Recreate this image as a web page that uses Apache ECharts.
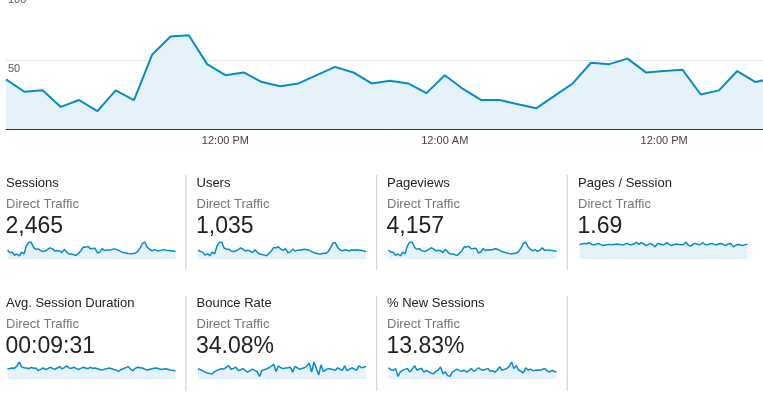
<!DOCTYPE html>
<html>
<head>
<meta charset="utf-8">
<script src="https://cdn.jsdelivr.net/npm/echarts@6/dist/echarts.min.js"></script>
<style>
  html, body { margin: 0; padding: 0; background: #fff; }
  #chart { width: 763px; height: 398px; }
</style>
</head>
<body>
<div id="chart"></div>
<script>
const FONT = '"Liberation Sans", Arial, sans-serif'

const hourNames = ['12:00 AM', '1:00 AM', '2:00 AM', '3:00 AM', '4:00 AM', '5:00 AM',
  '6:00 AM', '7:00 AM', '8:00 AM', '9:00 AM', '10:00 AM', '11:00 AM',
  '12:00 PM', '1:00 PM', '2:00 PM', '3:00 PM', '4:00 PM', '5:00 PM',
  '6:00 PM', '7:00 PM', '8:00 PM', '9:00 PM', '10:00 PM', '11:00 PM']
const hours = [...hourNames, ...hourNames, ...hourNames]

const yTicks = [0, 50, 100]

// hourly sessions, Direct Traffic (also drives the big chart)
const sessions = [36, 27, 28, 16, 21, 13, 28, 21, 54, 67, 68, 47, 39, 41, 34, 31, 33, 39, 45, 41,
  33, 35, 33, 26, 39, 29, 21, 21, 18, 15, 24, 33, 48, 47, 51, 41, 42, 43, 25, 28,
  42, 34, 37, 36, 38, 41, 39, 35, 30, 27, 25, 23, 22, 23, 24, 30, 44, 62, 68, 48,
  40, 33, 38, 35, 33, 36, 38, 36, 35, 34, 33, 31]
const users = [16, 13, 12, 7, 9, 6, 12, 9, 22, 28, 29, 19, 17, 17, 14, 13, 14, 16, 19, 17,
  14, 15, 14, 11, 16, 12, 9, 8, 7, 6, 10, 14, 20, 19, 21, 17, 15, 18, 11, 12,
  17, 14, 15, 15, 16, 17, 16, 15, 13, 11, 10, 9, 9, 10, 10, 13, 19, 27, 28, 20,
  16, 14, 16, 15, 14, 16, 15, 16, 15, 15, 14, 13]
const pageviews = [61, 46, 47, 27, 35, 22, 48, 36, 90, 112, 114, 79, 66, 70, 57, 52, 56, 66, 76, 69,
  56, 60, 56, 44, 66, 49, 36, 35, 31, 25, 41, 56, 82, 80, 86, 70, 71, 73, 42, 48,
  71, 58, 63, 61, 65, 70, 66, 59, 51, 46, 42, 39, 37, 39, 41, 51, 75, 105, 114, 81,
  66, 56, 64, 52, 60, 76, 58, 62, 60, 58, 56, 53]
const pagesPerSession = [1.72, 1.78, 1.84, 1.80, 1.92, 1.75, 1.68, 1.74, 1.84, 1.70,
  1.60, 1.66, 1.72, 1.70, 1.68, 1.74, 1.76, 1.70, 1.68, 1.72,
  1.84, 1.70, 1.68, 1.76, 2.00, 1.72, 1.92, 1.80, 1.60, 1.70,
  1.84, 1.66, 1.44, 1.84, 1.76, 1.68, 1.72, 1.92, 1.70, 1.60,
  1.72, 1.76, 1.70, 1.68, 1.72, 2.00, 1.62, 1.52, 1.74, 1.84,
  1.70, 1.68, 1.92, 1.72, 1.68, 1.76, 1.84, 1.72, 1.68, 1.80,
  1.84, 1.66, 1.60, 1.80, 1.84, 1.44, 1.62, 1.72, 1.66, 1.60, 1.70, 1.72]
// seconds
const avgDuration = [600, 610, 640, 620, 760, 980, 690, 660, 640, 600, 680, 620, 640, 500, 560, 640, 560, 600, 680, 620,
  560, 640, 720, 600, 660, 760, 640, 620, 680, 620, 560, 620, 680, 640, 600, 680, 620, 640, 600, 560,
  520, 580, 600, 640, 600, 560, 520, 440, 560, 600, 660, 720, 580, 480, 620, 680, 660, 640, 580, 520,
  560, 600, 620, 640, 600, 560, 580, 600, 560, 520, 500, 480]
const bounceRate = [37, 33, 29, 25, 22, 20, 19, 26, 31, 34, 37, 36, 42, 47, 35, 38, 42, 30, 33, 37,
  30, 25, 30, 35, 30, 27, 10, 31, 33, 36, 40, 46, 52, 27, 47, 40, 37, 39, 40, 42,
  25, 45, 40, 35, 38, 40, 46, 56, 25, 60, 38, 15, 50, 27, 33, 37, 36, 34, 31, 40,
  35, 31, 47, 30, 35, 40, 36, 31, 47, 40, 42, 45]
const newSessions = [18.7, 15, 14.6, 17.5, 4.7, 12, 14.6, 16, 17.5, 11.7, 16, 22.2, 14.6, 17, 17.5, 11.7, 14.6, 12, 10, 8.8,
  12.8, 15, 19.8, 8.8, 12, 6, 4.7, 11.7, 14, 16.3, 14, 12.8, 15, 11.7, 14, 17.5, 12.8, 15, 18.7, 16,
  14.6, 16, 17.5, 13, 14, 11.7, 15, 20.4, 14.6, 16, 17.5, 21, 28, 17.5, 22.2, 15, 13, 10.5, 18.7, 15,
  16.3, 14, 14.6, 15, 14.6, 16, 17.5, 14, 11.7, 14.6, 13, 11.7]

const metricNames = ['Sessions', 'Users', 'Pageviews', 'Pages / Session',
  'Avg. Session Duration', 'Bounce Rate', '% New Sessions']
const metricTotals = ['2,465', '1,035', '4,157', '1.69', '00:09:31', '34.08%', '13.83%']
const metricSeries = [sessions, users, pageviews, pagesPerSession, avgDuration, bounceRate, newSessions]
const segmentName = 'Direct Traffic'

const LINE = '#058dc7'
const AREA = '#e6f2f9'

const colX = [6, 196.5, 387, 578]
const rowY = [0, 120]

// big chart is wider than the window, only the first ~42 hours show
const grids = [{ left: 6, top: -9, width: 1298, height: 138, outerBoundsMode: 'none' }]
const xAxes = [{
  type: 'category', gridIndex: 0, data: hours, boundaryGap: false,
  axisLine: { lineStyle: { color: '#333', width: 1 } },
  axisTick: { show: false },
  axisLabel: {
    interval: (i) => i > 0 && i % 12 === 0,
    color: '#444', fontSize: 11, fontFamily: FONT, margin: 6
  },
  splitLine: { show: false }
}]
const yAxes = [{
  type: 'value', gridIndex: 0, min: yTicks[0], max: yTicks[2], interval: yTicks[1] - yTicks[0],
  axisLine: { show: false }, axisTick: { show: false },
  axisLabel: {
    inside: true, showMinLabel: false, margin: 2, verticalAlign: 'top',
    padding: [3, 0, 0, 0], color: '#555', fontSize: 11, fontFamily: FONT
  },
  splitLine: { lineStyle: { color: '#e6e6e6' } }
}]
const series = [{
  type: 'line', xAxisIndex: 0, yAxisIndex: 0, data: sessions,
  showSymbol: false, symbol: 'none',
  lineStyle: { color: LINE, width: 2 },
  areaStyle: { color: AREA, opacity: 1 },
  silent: true
}]
const graphics = []

metricNames.forEach((name, k) => {
  const row = k < 4 ? 0 : 1
  const col = k < 4 ? k : k - 4
  const x = colX[col]
  const dy = rowY[row]
  const g = k + 1
  grids.push({ left: x + 1.5, width: 168, top: 242 + dy, height: 17.3, outerBoundsMode: 'none' })
  xAxes.push({ type: 'category', gridIndex: g, boundaryGap: false, show: false })
  yAxes.push({ type: 'value', gridIndex: g, min: 0, max: 'dataMax', show: false })
  series.push({
    type: 'line', xAxisIndex: g, yAxisIndex: g, data: metricSeries[k],
    showSymbol: false, symbol: 'none',
    lineStyle: { color: LINE, width: 1.5 },
    areaStyle: { color: AREA, opacity: 1 },
    silent: true
  })
  graphics.push(
    { type: 'text', x: x, y: 183.8 + dy, style: { text: name, fill: '#222', font: '13px ' + FONT, verticalAlign: 'middle' } },
    { type: 'text', x: x, y: 204.3 + dy, style: { text: segmentName, fill: '#777', font: '13px ' + FONT, verticalAlign: 'middle' } },
    { type: 'text', x: x - 0.5, y: 226.3 + dy, style: { text: metricTotals[k], fill: '#222', font: '23px ' + FONT, verticalAlign: 'middle' } }
  )
})

// separators between the tiles
;[186, 376.7, 567.3].forEach(sx => {
  graphics.push({ type: 'line', shape: { x1: sx, y1: 175, x2: sx, y2: 270 }, style: { stroke: '#cccccc', lineWidth: 1 } })
  graphics.push({ type: 'line', shape: { x1: sx, y1: 296, x2: sx, y2: 391 }, style: { stroke: '#cccccc', lineWidth: 1 } })
})

const chart = echarts.init(document.getElementById('chart'))
chart.setOption({
  animation: false,
  grid: grids,
  xAxis: xAxes,
  yAxis: yAxes,
  series: series,
  graphic: graphics
})
</script>
</body>
</html>
